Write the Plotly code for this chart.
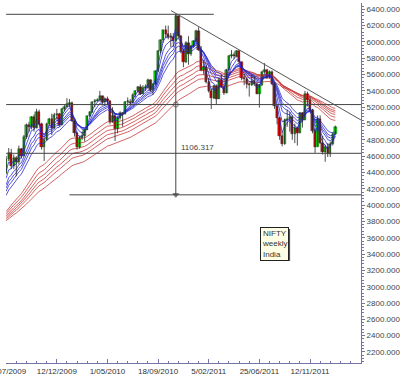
import plotly.graph_objects as go
import pandas as pd

# ---------------- data ----------------
week_start = "2009-07-25"
opens = [4390, 4568, 4636, 4481, 4580, 4528, 4688, 4608, 4829, 4976, 4959, 5083, 4945, 5142, 4997, 4712, 4796, 4998, 5052, 4942,
         5108, 5117, 4987, 5178, 5201, 5245, 5252, 5036, 4882, 4718, 4826, 4845, 4922, 5088, 5137, 5262, 5282, 5290, 5339, 5262,
         5304, 5278, 5018, 5093, 4931, 5066, 5135, 5119, 5262, 5269, 5251, 5353, 5393, 5449, 5367, 5439, 5452, 5531, 5408, 5479,
         5640, 5885, 6018, 6143, 6103, 6062, 6066, 6017, 6312, 6071, 5890, 5752, 5992, 5857, 5948, 6011, 6135, 5904, 5654, 5696,
         5512, 5395, 5310, 5459, 5303, 5538, 5445, 5374, 5654, 5826, 5842, 5824, 5884, 5749, 5552, 5544, 5486, 5476, 5516, 5486,
         5366, 5471, 5627, 5660, 5581, 5633, 5482, 5211, 5072, 4845, 4748, 5040, 5059, 5084, 4867, 4943, 4888, 5132, 5049, 5360,
         5284, 5169, 4906, 4710, 5050, 4764, 4651, 4714, 4624, 4754, 4866]
highs = [4600, 4700, 4690, 4620, 4600, 4730, 4700, 4860, 5000, 5020, 5090, 5110, 5180, 5170, 5010, 4830, 5010, 5070, 5120, 5130,
         5180, 5130, 5190, 5230, 5310, 5300, 5270, 5050, 4900, 4850, 4900, 4930, 5100, 5150, 5270, 5300, 5310, 5400, 5340, 5320,
         5330, 5280, 5200, 5120, 5090, 5150, 5140, 5275, 5320, 5300, 5370, 5410, 5460, 5480, 5470, 5480, 5550, 5540, 5490, 5650,
         5900, 6030, 6150, 6200, 6200, 6110, 6110, 6338.5, 6320, 6080, 5920, 6010, 6070, 5960, 6020, 6150, 6180, 5950, 5780, 5720,
         5560, 5430, 5470, 5480, 5560, 5600, 5470, 5670, 5840, 5900, 5870, 5900, 5900, 5760, 5610, 5560, 5500, 5600, 5580, 5500,
         5480, 5640, 5740, 5670, 5650, 5650, 5500, 5220, 5080, 4900, 5060, 5170, 5140, 5100, 5000, 4960, 5140, 5140, 5400, 5390,
         5330, 5180, 4940, 5100, 5100, 4850, 4740, 4760, 4780, 4890, 4975]
lows = [4380, 4540, 4440, 4440, 4353, 4500, 4570, 4600, 4810, 4900, 4930, 4900, 4940, 4980, 4680, 4540, 4790, 4970, 4860, 4930,
        5050, 4960, 4980, 5150, 5200, 5200, 5020, 4840, 4680, 4690, 4800, 4780, 4920, 5080, 5130, 5200, 5270, 5270, 5220, 5220,
        5230, 4990, 5010, 4786, 4880, 5050, 4960, 5110, 5240, 5220, 5250, 5320, 5380, 5350, 5360, 5400, 5430, 5390, 5350, 5470,
        5630, 5860, 5990, 6050, 6030, 5940, 5940, 6010, 6040, 5860, 5690, 5740, 5720, 5830, 5930, 6000, 5890, 5640, 5600, 5490,
        5380, 5177, 5300, 5230, 5300, 5440, 5350, 5370, 5650, 5800, 5790, 5810, 5730, 5530, 5470, 5430, 5330, 5460, 5460, 5360,
        5195, 5460, 5610, 5550, 5550, 5470, 5180, 4990, 4800, 4720, 4740, 4960, 4900, 4800, 4760, 4730, 4880, 4950, 5040, 5210,
        5140, 4880, 4640, 4720, 4750, 4620, 4531, 4590, 4590, 4730, 4860]
closes = [4568, 4636, 4481, 4580, 4528, 4688, 4608, 4829, 4976, 4959, 5083, 4945, 5142, 4997, 4712, 4796, 4998, 5052, 4942, 5108,
          5117, 4987, 5178, 5201, 5245, 5252, 5036, 4882, 4718, 4826, 4845, 4922, 5088, 5137, 5262, 5282, 5290, 5339, 5262, 5304,
          5278, 5018, 5093, 4931, 5066, 5135, 5119, 5262, 5269, 5251, 5353, 5393, 5449, 5367, 5439, 5452, 5531, 5408, 5479, 5640,
          5885, 6018, 6143, 6103, 6062, 6066, 6017, 6312, 6071, 5890, 5752, 5992, 5857, 5948, 6011, 6135, 5904, 5654, 5696, 5512,
          5395, 5310, 5459, 5303, 5538, 5445, 5374, 5654, 5826, 5842, 5824, 5884, 5749, 5552, 5544, 5486, 5476, 5516, 5486, 5366,
          5471, 5627, 5660, 5581, 5633, 5482, 5211, 5072, 4845, 4748, 5040, 5059, 5084, 4867, 4943, 4888, 5132, 5049, 5360, 5284,
          5169, 4906, 4710, 5050, 4764, 4651, 4714, 4624, 4754, 4866, 4960]
dates = pd.date_range(week_start, periods=len(closes), freq="7D")

# Guppy multiple moving averages (EMA) with their values at the first visible week
short_periods = [3, 5, 8, 10, 12, 15]
short_seeds = [4420, 4330, 4250, 4210, 4170, 4120]
long_periods = [30, 35, 40, 45, 50, 60]
long_seeds = [3920, 3895, 3870, 3850, 3830, 3810]

# horizontal reference lines (level, start date, end date)
top_level = 6338.5
measure = 1106.317
mid_level = top_level - measure
proj_level = mid_level - measure
support_level = 4635
hline_levels = [top_level, mid_level, support_level, proj_level]
hline_starts = ["2009-07-25", "2009-07-25", "2009-07-25", "2010-01-16"]
hline_ends = ["2011-02-19", "2012-04-01", "2012-04-01", "2012-04-01"]
vline_date = "2010-11-06"
trend_dates = ["2010-10-24", "2012-04-01"]
trend_values = [6383, 5043]

x_range = ["2009-07-24 12:00", "2012-04-01"]
y_range = [2065, 6477]
tick_dates = ["2009-07-25", "2009-12-12", "2010-05-01", "2010-09-18", "2011-02-05", "2011-06-25", "2011-11-12"]


def ema(values, period, seed):
    k = 2.0 / (period + 1)
    out = [seed]
    for v in values[1:]:
        out.append(out[-1] + k * (v - out[-1]))
    return out


fig = go.Figure()

for p, s in zip(long_periods, long_seeds):
    fig.add_trace(go.Scatter(x=dates, y=ema(closes, p, s), mode="lines",
                             line=dict(color="#c83a3a", width=0.8), hoverinfo="skip"))
for p, s in zip(short_periods, short_seeds):
    fig.add_trace(go.Scatter(x=dates, y=ema(closes, p, s), mode="lines",
                             line=dict(color="#2a2ad0", width=0.8), hoverinfo="skip"))

# candle wicks
wx, wy = [], []
for d, lo, hi in zip(dates, lows, highs):
    wx += [d, d, None]
    wy += [lo, hi, None]
fig.add_trace(go.Scatter(x=wx, y=wy, mode="lines", line=dict(color="#222222", width=0.8), hoverinfo="skip"))

# candle bodies
body_base = [min(o, c) for o, c in zip(opens, closes)]
body_len = [max(abs(c - o), 8) for o, c in zip(opens, closes)]
body_col = ["#00e000" if c >= o else "#f00000" for o, c in zip(opens, closes)]
fig.add_trace(go.Bar(x=dates, y=body_len, base=body_base, width=6.5 * 86400000,
                     marker=dict(color=body_col, line=dict(color="#222222", width=0.4)),
                     hoverinfo="skip"))

for lvl, a, b in zip(hline_levels, hline_starts, hline_ends):
    fig.add_trace(go.Scatter(x=[a, b], y=[lvl, lvl], mode="lines",
                             line=dict(color="#444444", width=1), hoverinfo="skip"))

fig.add_trace(go.Scatter(x=trend_dates, y=trend_values, mode="lines",
                         line=dict(color="#555555", width=1), hoverinfo="skip"))
fig.add_trace(go.Scatter(x=[vline_date, vline_date], y=[top_level, proj_level], mode="lines",
                         line=dict(color="#444444", width=1), hoverinfo="skip"))
fig.add_trace(go.Scatter(x=[vline_date, vline_date], y=[mid_level, proj_level], mode="markers",
                         marker=dict(symbol=["circle-open", "triangle-down"], size=[5, 5],
                                     color="#444444", line=dict(color="#444444", width=1)),
                         hoverinfo="skip"))

fig.add_annotation(x="2010-11-16", y=support_level, xref="x", yref="y", text=f"{measure:.3f}",
                   showarrow=False, xanchor="left", yanchor="bottom", yshift=-1,
                   font=dict(family="Liberation Sans, Arial", size=8, color="#444444"))

# label box with shadow
fig.add_shape(type="rect", xref="paper", yref="paper", x0=0.7211, x1=0.8003, y0=0.2833, y1=0.3722,
              fillcolor="#555555", line=dict(width=0), layer="above")
fig.add_annotation(x=0.7155, y=0.3778, xref="paper", yref="paper", xanchor="left", yanchor="top",
                   text="NIFTY<br>weekly<br>India", showarrow=False, align="left",
                   bgcolor="#ffffe6", bordercolor="#222222", borderwidth=1, borderpad=1,
                   font=dict(family="Liberation Sans, Arial", size=8, color="#333333"))

axis_col = "#7474a8"
fig.update_layout(
    width=400, height=377,
    margin=dict(l=6, r=39, t=3, b=14, autoexpand=False),
    paper_bgcolor="white", plot_bgcolor="white",
    showlegend=False, bargap=0,
    font=dict(family="Liberation Sans, Arial", size=8, color="#444444"),
    xaxis=dict(type="date", range=x_range, automargin=False,
               showgrid=False, zeroline=False, showline=True, linecolor=axis_col, linewidth=1,
               tickmode="array", tickvals=tick_dates, tickformat="%-d/%m/%Y",
               ticklabeloverflow="allow",
               ticks="inside", ticklen=4, tickcolor=axis_col,
               minor=dict(tick0="2009-07-25", dtick=28 * 86400000, ticks="inside", ticklen=2, tickcolor=axis_col),
               tickfont=dict(size=8, color="#333333")),
    yaxis=dict(side="right", range=y_range, automargin=False, showgrid=False, zeroline=False,
               showline=True, linecolor=axis_col, linewidth=1,
               tickmode="linear", tick0=2200, dtick=200, tickformat=".3f",
               ticklabeloverflow="allow",
               ticks="outside", ticklen=3, tickcolor=axis_col,
               minor=dict(dtick=40, ticks="outside", ticklen=1.5, tickcolor=axis_col),
               tickfont=dict(size=8, color="#444444")),
)

fig.write_html("out.html", config={"displayModeBar": False},
               post_script="document.body.style.margin='0px';document.body.style.overflow='hidden';")
